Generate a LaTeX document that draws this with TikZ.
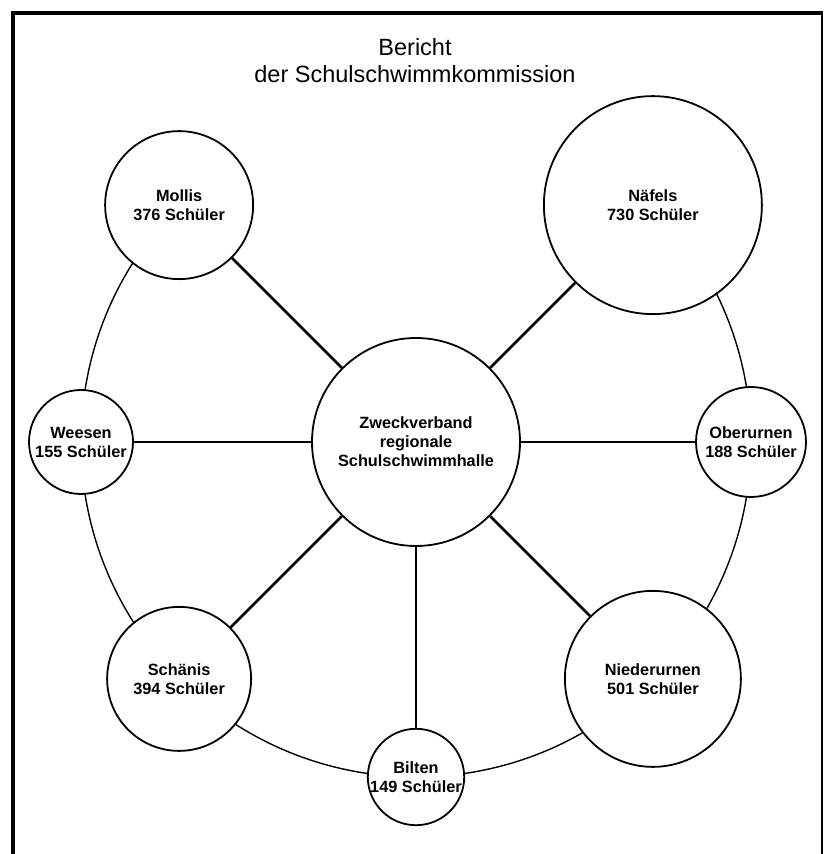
\documentclass[tikz,border=0pt]{standalone}
\usepackage{fontspec}
\setmainfont{Liberation Sans}
\tikzset{
  town/.style={circle, draw, line width=1.8pt, fill=white, inner sep=0pt, align=center,
    font=\fontsize{16.3}{19}\selectfont\bfseries},
  spoke/.style={line width=2.6pt},
  ring/.style={line width=1.4pt},
  headline/.style={font=\fontsize{23.5}{27}\selectfont, anchor=base}
}
\begin{document}
\begin{tikzpicture}[x=1pt,y=1pt]
\useasboundingbox (0,0) rectangle (823,854);
% frame
\draw[line width=4pt] (13,0) -- (13,841) -- (823,841);
\draw[line width=1.5pt] (822,841) -- (822,0);
% title
\node[headline] (bericht) at (415,798) {Bericht};
\node[headline] (kommission) at (415,771) {der Schulschwimmkommission};
% ring of the communes
\coordinate (ctr) at (416,412);
\draw[ring] ([shift={(135:335)}]ctr) arc[start angle=135, end angle=405, radius=335];
\node[town, minimum size=208pt] (halle) at (ctr) {Zweckverband\\regionale\\Schulschwimmhalle};
\node[town, minimum size=148pt] (mollis) at ([shift={(135:335)}]ctr) {Mollis\\376 Schüler};
\node[town, minimum size=218pt] (naefels) at ([shift={(45:335)}]ctr) {Näfels\\730 Schüler};
\node[town, minimum size=104pt] (weesen) at ([shift={(180:335)}]ctr) {Weesen\\155 Schüler};
\node[town, minimum size=110pt] (oberurnen) at ([shift={(0:335)}]ctr) {Oberurnen\\188 Schüler};
\node[town, minimum size=144pt] (schaenis) at ([shift={(225:335)}]ctr) {Schänis\\394 Schüler};
\node[town, minimum size=176pt] (niederurnen) at ([shift={(315:335)}]ctr) {Niederurnen\\501 Schüler};
\node[town, minimum size=96pt] (bilten) at ([shift={(270:335)}]ctr) {Bilten\\149 Schüler};
% spokes
\foreach \n in {mollis,naefels,weesen,oberurnen,schaenis,bilten,niederurnen}
  \draw[spoke] (halle) -- (\n);
\end{tikzpicture}
\end{document}
